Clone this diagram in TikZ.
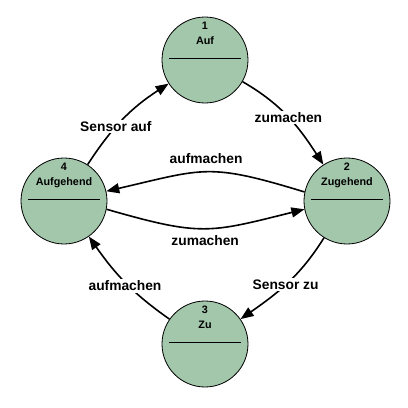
\documentclass[tikz,border=0pt]{standalone}
\usepackage{fontspec}
\setmainfont{Liberation Sans}
\usetikzlibrary{arrows.meta}
\definecolor{stategreen}{RGB}{163,199,171}
\begin{document}
\begin{tikzpicture}[x=1pt,y=1pt,
  state/.style={circle, draw=black, line width=0.8pt, fill=stategreen, minimum size=86pt, inner sep=0pt},
  numtext/.style={font=\fontsize{10.8}{12}\selectfont\bfseries, anchor=base, inner sep=0pt},
  sepline/.style={line width=1pt},
  trans/.style={line width=1.6pt, -{Triangle[length=13pt,width=10pt]}},
  elabel/.style={font=\fontsize{13.8}{16}\selectfont\bfseries, fill=white, inner sep=1.5pt},
  olabel/.style={font=\fontsize{13.8}{16}\selectfont\bfseries, inner sep=1.5pt}]
\useasboundingbox (0,0) rectangle (408,408);

% states (y measured upward: y = 408 - image y)
\node[state] (n1) at (205,348) {};
\node[state] (n2) at (347,207) {};
\node[state] (n3) at (205,64) {};
\node[state] (n4) at (64,207) {};

% texts and separator lines
\node[numtext] (n1num) at ([yshift=30pt]n1.center) {1};
\node[numtext] (n1nam) at ([yshift=15pt]n1.center) {Auf};
\draw[sepline] ([xshift=-36pt,yshift=1.5pt]n1.center) -- ([xshift=36pt,yshift=1.5pt]n1.center);

\node[numtext] (n2num) at ([yshift=30pt]n2.center) {2};
\node[numtext] (n2nam) at ([yshift=15pt]n2.center) {Zugehend};
\draw[sepline] ([xshift=-36pt,yshift=1.5pt]n2.center) -- ([xshift=36pt,yshift=1.5pt]n2.center);

\node[numtext] (n3num) at ([yshift=30pt]n3.center) {3};
\node[numtext] (n3nam) at ([yshift=15pt]n3.center) {Zu};
\draw[sepline] ([xshift=-36pt,yshift=1.5pt]n3.center) -- ([xshift=36pt,yshift=1.5pt]n3.center);

\node[numtext] (n4num) at ([yshift=30pt]n4.center) {4};
\node[numtext] (n4nam) at ([yshift=15pt]n4.center) {Aufgehend};
\draw[sepline] ([xshift=-36pt,yshift=1.5pt]n4.center) -- ([xshift=36pt,yshift=1.5pt]n4.center);

% transitions
\draw[trans] (n4) to[out=57,in=213] node[elabel,pos=0.4] (l41) {Sensor auf} (n1);
\draw[trans] (n1) to[out=-30,in=123] node[elabel,pos=0.5] (l12) {zumachen} (n2);
\draw[trans] (n2) to[out=238,in=35] node[elabel,pos=0.52] (l23) {Sensor zu} (n3);
\draw[trans] (n3) to[out=145,in=305] node[elabel,pos=0.5,yshift=-4pt] (l34) {aufmachen} (n4);
\draw[trans] (n2.168) to[out=163,in=13,looseness=1.3] node[olabel,midway,above=6pt] (l24) {aufmachen} (n4.13);
\draw[trans] (n4.-11) to[out=-16,in=194,looseness=1.28] node[olabel,midway,below=5pt] (l42) {zumachen} (n2.191);
\end{tikzpicture}
\end{document}
